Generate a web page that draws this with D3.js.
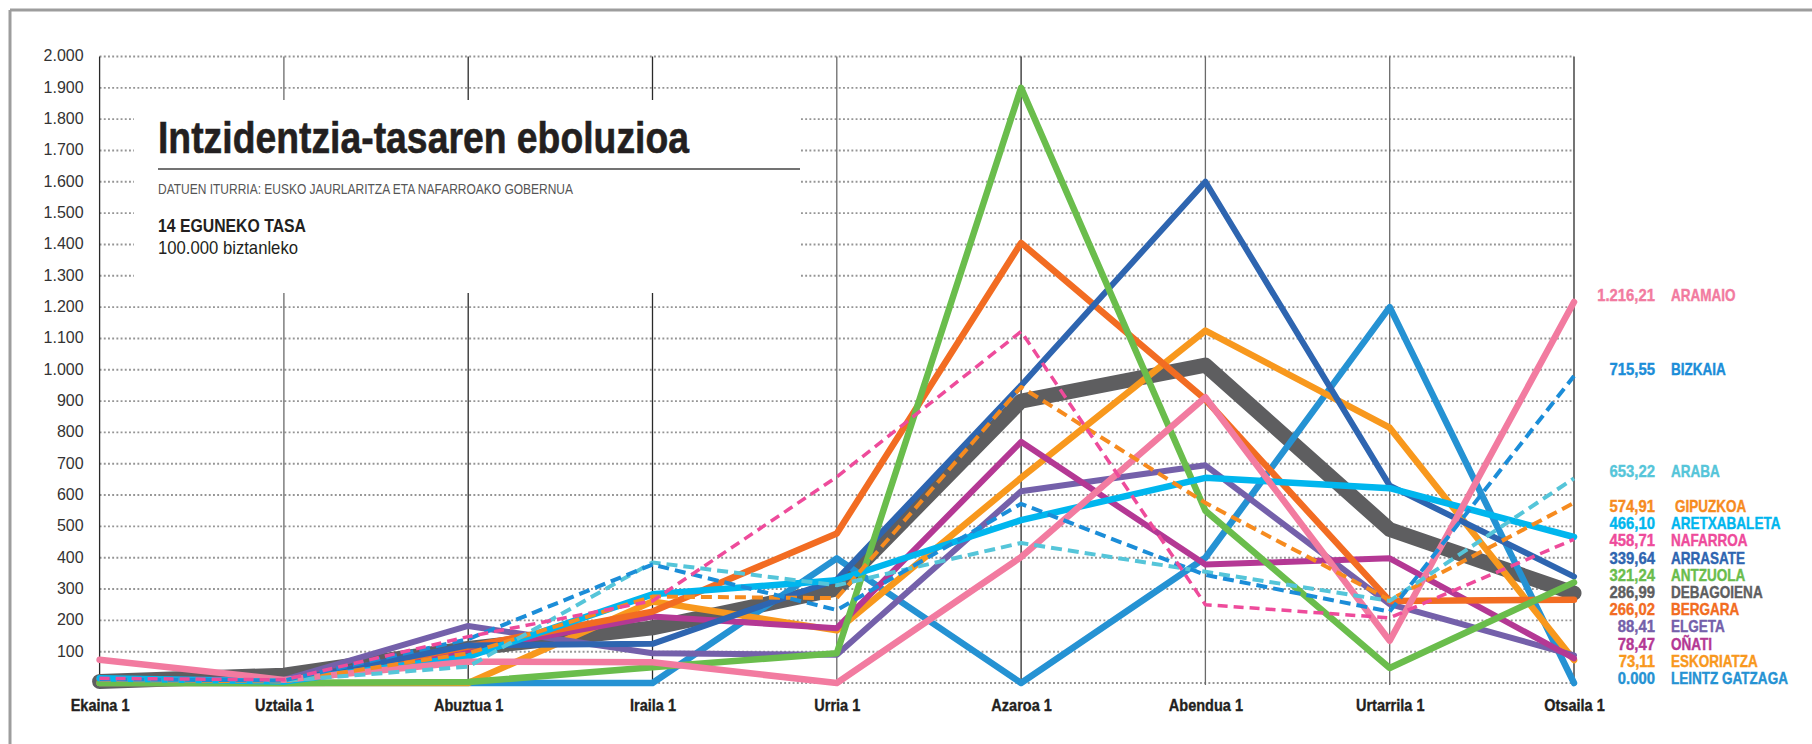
<!DOCTYPE html>
<html>
<head>
<meta charset="utf-8">
<script src="https://cdn.jsdelivr.net/npm/d3@7"></script>
<style>
  body { margin: 0; background: #fff; }
  svg { display: block; }
</style>
</head>
<body>
<svg id="chart" width="1812" height="744"></svg>
<script>
// ---------------- DATA ----------------
const months = ["Ekaina 1", "Uztaila 1", "Abuztua 1", "Iraila 1", "Urria 1", "Azaroa 1", "Abendua 1", "Urtarrila 1", "Otsaila 1"];
const yTickValues = [100, 200, 300, 400, 500, 600, 700, 800, 900, 1000, 1100, 1200, 1300, 1400, 1500, 1600, 1700, 1800, 1900, 2000];
const gridValues = [0, 100, 200, 300, 400, 500, 600, 700, 800, 900, 1000, 1100, 1200, 1300, 1400, 1500, 1600, 1700, 1800, 1900, 2000];

const aramaio      = [74, 10, 68, 66, 0, 402, 912, 135, 1216.21];
const bizkaia      = [12, 8, 140, 378, 233, 572, 345, 228, 980];
const araba        = [12, 8, 52, 385, 312, 447, 355, 262, 653.22];
const gipuzkoa     = [10, 5, 95, 276, 271, 945, 575, 265, 574.91];
const aretxabaleta = [15, 5, 84, 283, 328, 520, 655, 622, 466.10];
const nafarroa     = [15, 10, 148, 262, 658, 1122, 250, 208, 458.71];
const arrasate     = [8, 5, 120, 125, 330, 950, 1600, 630, 339.64];
const antzuola     = [0, 0, 3, 50, 95, 1900, 550, 48, 321.24];
const debagoiena   = [5, 25, 110, 176, 300, 900, 1015, 490, 286.99];
const bergara      = [10, 5, 116, 228, 477, 1405, 905, 262, 266.02];
const elgeta       = [10, 10, 182, 95, 90, 612, 695, 252, 88.41];
const onati        = [10, 5, 105, 212, 175, 770, 378, 398, 78.47];
const eskoriatza   = [0, 0, 0, 260, 168, 655, 1125, 815, 73.11];
const leintz       = [0, 0, 0, 0, 398, 0, 400, 1200, 0];

const seriesNames  = ["ARAMAIO", "BIZKAIA", "ARABA", "GIPUZKOA", "ARETXABALETA", "NAFARROA", "ARRASATE", "ANTZUOLA", "DEBAGOIENA", "BERGARA", "ELGETA", "OÑATI", "ESKORIATZA", "LEINTZ GATZAGA"];
const seriesValues = [aramaio, bizkaia, araba, gipuzkoa, aretxabaleta, nafarroa, arrasate, antzuola, debagoiena, bergara, elgeta, onati, eskoriatza, leintz];
const valueLabels  = ["1.216,21", "715,55", "653,22", "574,91", "466,10", "458,71", "339,64", "321,24", "286,99", "266,02", "88,41", "78,47", "73,11", "0.000"];

const titleText = "Intzidentzia-tasaren eboluzioa";
const sourceText = "DATUEN ITURRIA: EUSKO JAURLARITZA ETA NAFARROAKO GOBERNUA";
const unitTitle = "14 EGUNEKO TASA";
const unitText = "100.000 biztanleko";

// ---------------- STYLES ----------------
const styles = {
  "ARAMAIO":        { color: "#F27BA0", width: 6.5, dash: null },
  "BIZKAIA":        { color: "#1B8DD8", width: 4,   dash: "11,6" },
  "ARABA":          { color: "#55C5D9", width: 4,   dash: "11,6" },
  "GIPUZKOA":       { color: "#F68B1F", width: 4,   dash: "11,6" },
  "ARETXABALETA":   { color: "#00B6EE", width: 6.5, dash: null },
  "NAFARROA":       { color: "#EE4B9B", width: 3.5, dash: "10,6" },
  "ARRASATE":       { color: "#2E65B0", width: 6,   dash: null },
  "ANTZUOLA":       { color: "#6ABD4C", width: 6.5, dash: null },
  "DEBAGOIENA":     { color: "#5E5E60", width: 15,  dash: null },
  "BERGARA":        { color: "#F26C22", width: 6.5, dash: null },
  "ELGETA":         { color: "#7460AA", width: 6,   dash: null },
  "OÑATI":          { color: "#B43894", width: 6,   dash: null },
  "ESKORIATZA":     { color: "#F8981D", width: 6.5, dash: null },
  "LEINTZ GATZAGA": { color: "#2592D3", width: 6.5, dash: null }
};
const drawOrder = ["DEBAGOIENA", "LEINTZ GATZAGA", "ESKORIATZA", "ELGETA", "OÑATI", "BERGARA", "ARRASATE", "ANTZUOLA", "ARETXABALETA", "ARAMAIO", "GIPUZKOA", "ARABA", "BIZKAIA", "NAFARROA"];

// ---------------- LAYOUT ----------------
const svg = d3.select("#chart");
const W = 1812, H = 744;
const plot = { left: 99.6, right: 1574, top: 56.5, bottom: 683 };
const FONT = "'Liberation Sans', Arial, Helvetica, sans-serif";

const x = d3.scalePoint().domain(months).range([plot.left, plot.right]);
const y = d3.scaleLinear().domain([0, 2000]).range([plot.bottom, plot.top]);

const locale = d3.formatLocale({ decimal: ",", thousands: ".", grouping: [3], currency: ["", "€"] });
const fmt = locale.format(",");

// frame (top and left edges visible)
svg.append("line").attr("x1", 10).attr("x2", W).attr("y1", 10).attr("y2", 10)
  .attr("stroke", "#9d9d9d").attr("stroke-width", 3);
svg.append("line").attr("x1", 10).attr("x2", 10).attr("y1", 10).attr("y2", H)
  .attr("stroke", "#9d9d9d").attr("stroke-width", 3);

// horizontal dotted gridlines
svg.append("g").selectAll("line").data(gridValues).join("line")
  .attr("x1", plot.left).attr("x2", plot.right)
  .attr("y1", d => y(d)).attr("y2", d => y(d))
  .attr("stroke", "#959595").attr("stroke-width", 1.9)
  .attr("stroke-dasharray", "1.9,2.3");

// vertical month lines
svg.append("g").selectAll("line").data(months).join("line")
  .attr("x1", d => x(d)).attr("x2", d => x(d))
  .attr("y1", y(2000)).attr("y2", y(0) + 2)
  .attr("stroke", (d, i) => (i === 0 || i === 8 || i === 5 || i === 2 || i === 3) ? "#2a2a2a" : "#6a6a6a")
  .attr("stroke-width", 1.3);

// white title box
svg.append("rect").attr("x", 134).attr("y", 100).attr("width", 667).attr("height", 193).attr("fill", "#fff");

// title block
svg.append("text").attr("x", 158).attr("y", 153)
  .attr("font-family", FONT).attr("font-weight", "bold").attr("font-size", 45)
  .attr("fill", "#231f20").attr("stroke", "#231f20").attr("stroke-width", 0.6)
  .attr("textLength", 531).attr("lengthAdjust", "spacingAndGlyphs")
  .text(titleText);
svg.append("line").attr("x1", 158).attr("x2", 800).attr("y1", 169).attr("y2", 169)
  .attr("stroke", "#444").attr("stroke-width", 1.5);
svg.append("text").attr("x", 158).attr("y", 193.5)
  .attr("font-family", FONT).attr("font-size", 14.5)
  .attr("fill", "#555").attr("textLength", 415).attr("lengthAdjust", "spacingAndGlyphs")
  .text(sourceText);
svg.append("text").attr("x", 158).attr("y", 231.5)
  .attr("font-family", FONT).attr("font-weight", "bold").attr("font-size", 18)
  .attr("fill", "#231f20").attr("textLength", 148).attr("lengthAdjust", "spacingAndGlyphs")
  .text(unitTitle);
svg.append("text").attr("x", 158).attr("y", 253.5)
  .attr("font-family", FONT).attr("font-size", 18.5)
  .attr("fill", "#231f20").attr("textLength", 140).attr("lengthAdjust", "spacingAndGlyphs")
  .text(unitText);

// y axis
const yAxis = svg.append("g").attr("transform", `translate(${plot.left},0)`)
  .call(d3.axisLeft(y).tickValues(yTickValues).tickSize(0).tickPadding(16).tickFormat(d => fmt(d)));
yAxis.select(".domain").remove();
yAxis.selectAll("text")
  .attr("font-family", FONT).attr("font-size", 16).attr("fill", "#333")
  .attr("dy", "0.27em");

// x axis
const xAxis = svg.append("g").attr("transform", `translate(0,${plot.bottom})`)
  .call(d3.axisBottom(x).tickSize(0).tickPadding(0));
xAxis.select(".domain").remove();
xAxis.selectAll("text")
  .attr("font-family", FONT).attr("font-weight", "bold").attr("font-size", 16.5)
  .attr("fill", "#231f20").attr("stroke", "#231f20").attr("stroke-width", 0.35)
  .attr("y", 28).attr("dy", 0)
  .attr("transform", "scale(0.88,1)")
  .attr("x", 0);

// lines
const lineGen = d3.line().x((d, i) => x(months[i])).y(d => y(d));
const lines = svg.append("g");
drawOrder.forEach(name => {
  const idx = seriesNames.indexOf(name);
  const st = styles[name];
  lines.append("path")
    .datum(seriesValues[idx])
    .attr("d", lineGen)
    .attr("fill", "none")
    .attr("stroke", st.color)
    .attr("stroke-width", st.width)
    .attr("stroke-linejoin", "round")
    .attr("stroke-linecap", st.dash ? "butt" : "round")
    .attr("stroke-dasharray", st.dash);
});

// end labels
const labels = svg.append("g");
const nTop = 3, rowStep = 17.2;
seriesNames.forEach((name, i) => {
  const vals = seriesValues[i];
  const center = i < nTop
    ? y(vals[vals.length - 1]) - 7
    : y(0) - 5 - (seriesNames.length - 1 - i) * rowStep;
  const base = center + 6;
  const col = styles[name].color;
  labels.append("text")
    .attr("transform", `translate(1655,${base}) scale(0.9,1)`)
    .attr("text-anchor", "end")
    .attr("font-family", FONT).attr("font-weight", "bold").attr("font-size", 16.5)
    .attr("fill", col).attr("stroke", col).attr("stroke-width", 0.4)
    .text(valueLabels[i]);
  labels.append("text")
    .attr("transform", `translate(${name === "GIPUZKOA" ? 1675 : 1671},${base}) scale(0.82,1)`)
    .attr("text-anchor", "start")
    .attr("font-family", FONT).attr("font-weight", "bold").attr("font-size", 16.5)
    .attr("fill", col).attr("stroke", col).attr("stroke-width", 0.4)
    .text(name);
});
</script>
</body>
</html>
